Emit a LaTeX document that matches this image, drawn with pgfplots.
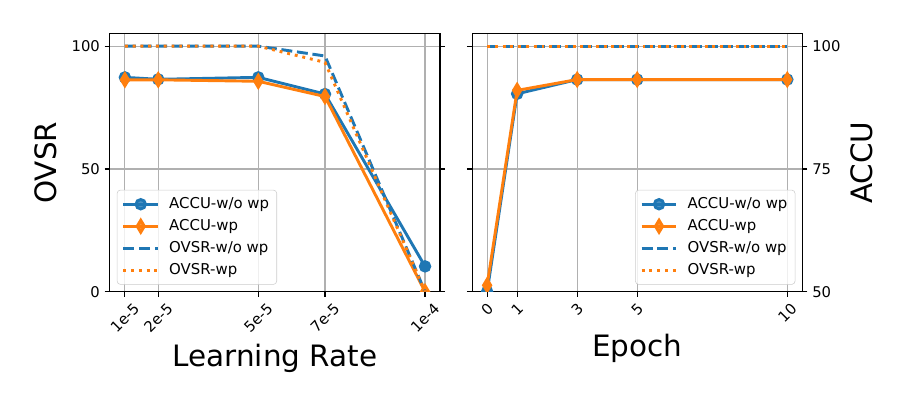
\documentclass[border=0pt]{standalone}
\usepackage{fontspec}
\setmainfont{DejaVu Sans}
\usepackage{graphicx}
\usepackage{pgfplots}
\pgfplotsset{compat=1.18}
\definecolor{tabblue}{HTML}{1F77B4}
\definecolor{taborange}{HTML}{FF7F0E}
\definecolor{gridgray}{HTML}{B0B0B0}
\newcommand{\rl}[1]{\rotatebox{45}{#1}}
\begin{document}
\begin{tikzpicture}
\pgfplotsset{
  common/.style={
    width=238bp, height=185.8bp, scale only axis,
    tick align=outside, major tick length=3.7bp,
    xtick pos=bottom, ytick pos=both,
    grid=major, major grid style={draw=gridgray, line width=0.85bp},
    axis line style={line width=0.85bp},
    every tick/.style={black, line width=0.85bp},
    tick label style={font=\fontsize{10.7}{12}\selectfont},
    /pgf/number format/assume math mode=true,
    xticklabel style={anchor=north, inner sep=0pt, yshift=-3.7bp},
    label style={font=\fontsize{21.3}{25}\selectfont},
    clip marker paths=true,
    legend cell align=left,
    legend style={font=\fontsize{10.8}{12}\selectfont, draw=black!20, rounded corners=2.5bp,
      fill=white, fill opacity=0.8, text opacity=1, inner sep=3.5bp, row sep=2.4bp,
      /tikz/every odd column/.append style={column sep=5bp}},
    legend image code/.code={\draw[mark repeat=2, mark phase=2] plot coordinates {(0bp,0bp) (12.5bp,0bp) (25bp,0bp)};},
  },
  bc/.style={tabblue, line width=2.1bp, mark=*, mark size=3.4bp, mark options={solid, fill=tabblue}},
  od/.style={taborange, line width=2.1bp, mark=diamond*, mark size=4.3bp, mark options={solid, fill=taborange, xscale=0.8}},
  bd/.style={tabblue, line width=2.1bp, dash pattern=on 7.9bp off 3.4bp},
  oo/.style={taborange, line width=2.1bp, dash pattern=on 2.1bp off 3.5bp},
}
\begin{axis}[common, at={(0,0)}, anchor=south west,
  xmin=0.55, xmax=10.45, ymin=0, ymax=105,
  xtick={1,2,5,7,10}, xticklabels={\rl{1e-5},\rl{2e-5},\rl{5e-5},\rl{7e-5},\rl{1e-4}},
  ytick={0,50,100},
  xlabel={Learning Rate}, ylabel={OVSR},
  xlabel style={at={(axis description cs:0.5,-0.2917)}, anchor=base},
  ylabel style={at={(axis description cs:-0.1616,0.5)}, anchor=base, rotate=0},
  legend style={at={(axis description cs:0,0)}, anchor=south west, xshift=5bp, yshift=5bp},
]
\addplot[bc] coordinates {(1,87.3) (2,86.5) (5,87.3) (7,80.5) (10,10.3)};
\addlegendentry{ACCU-w/o wp}
\addplot[od] coordinates {(1,86.3) (2,86.3) (5,85.7) (7,79.5) (10,0)};
\addlegendentry{ACCU-wp}
\addplot[bd] coordinates {(1,100) (2,100) (5,100) (7,96) (10,0)};
\addlegendentry{OVSR-w/o wp}
\addplot[oo] coordinates {(1,100) (2,100) (5,100) (7,93.4) (10,0)};
\addlegendentry{OVSR-wp}
\end{axis}
\begin{axis}[common, at={(261.1bp,0)}, anchor=south west,
  xmin=-0.5, xmax=10.5, ymin=50, ymax=102.5,
  xtick={0,1,3,5,10}, xticklabels={\rl{0},\rl{1},\rl{3},\rl{5},\rl{10}},
  ytick={50,75,100}, yticklabel pos=right,
  xlabel={Epoch}, ylabel={ACCU},
  xlabel style={at={(axis description cs:0.5,-0.2508)}, anchor=base},
  ylabel style={at={(axis description cs:1.2118,0.5)}, anchor=base, rotate=0},
  legend style={at={(axis description cs:1,0)}, anchor=south east, xshift=-5bp, yshift=5bp},
]
\addplot[bc] coordinates {(0,50) (1,90.3) (3,93.2) (5,93.2) (10,93.2)};
\addlegendentry{ACCU-w/o wp}
\addplot[od] coordinates {(0,51.3) (1,91) (3,93.2) (5,93.2) (10,93.2)};
\addlegendentry{ACCU-wp}
\addplot[bd] coordinates {(0,100) (1,100) (3,100) (5,100) (10,100)};
\addlegendentry{OVSR-w/o wp}
\addplot[oo] coordinates {(0,100) (1,100) (3,100) (5,100) (10,100)};
\addlegendentry{OVSR-wp}
\end{axis}
\path[use as bounding box] (-79.2bp,-77.04bp) rectangle (568.8bp,210.24bp);
\end{tikzpicture}
\end{document}
